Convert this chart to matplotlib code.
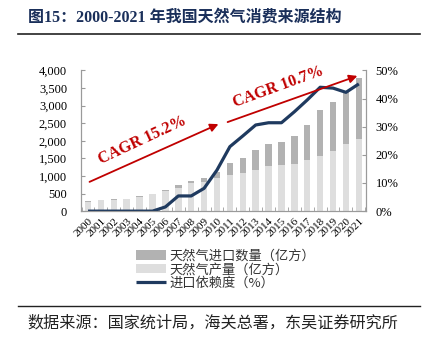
import matplotlib
matplotlib.use("Agg")
import matplotlib.pyplot as plt
import matplotlib.transforms as mtransforms
import numpy as np

plt.rcParams['font.family'] = ['Liberation Serif', 'Noto Sans CJK SC', 'DejaVu Sans']

years = [str(y) for y in range(2000, 2022)]
production = [272, 303, 327, 340, 400, 480, 575, 650, 790, 840, 930, 1025, 1071, 1166,
              1280, 1308, 1346, 1450, 1573, 1715, 1896, 2050]
imports = [18, 18, 18, 15, 20, 20, 25, 90, 65, 90, 190, 340, 426, 568,
           616, 645, 777, 986, 1300, 1384, 1480, 1740]
dependency = [0, 0, 0, 0, 0, 0, 1.5, 5.4, 5.4, 8.1, 14.6, 22.9, 26.7, 30.6,
              31.4, 31.4, 35.3, 39.5, 44.0, 43.7, 42.2, 45.2]

c_import = '#b2b2b2'
c_prod = '#dedede'
c_line = '#1f3a5f'
c_red = '#c00000'
c_spine = '#9a9a9a'
cjk = ['Noto Sans CJK SC', 'DejaVu Sans']

fig = plt.figure(figsize=(4.26, 3.45), dpi=100)
ax = fig.add_axes([0.190, 0.388, 0.669, 0.408])
ax2 = ax.twinx()

x = np.arange(len(years))
b1 = ax.bar(x, imports, 0.5, bottom=production, color=c_import, label='天然气进口数量（亿方）', zorder=2)
b2 = ax.bar(x, production, 0.5, color=c_prod, label='天然气产量（亿方）', zorder=2)
l1, = ax2.plot(x, dependency, color=c_line, lw=2.3, label='进口依赖度（%）', solid_capstyle='butt')

ax.set_xlim(-0.55, 21.55)
ax.set_ylim(0, 4000)
ax.set_yticks(range(0, 4001, 500))
ax.set_yticklabels([f'{v:,}' for v in range(0, 4001, 500)])
ax2.set_ylim(0, 50)
ax2.set_yticks(range(0, 51, 10))
ax2.set_yticklabels([f'{v}%' for v in range(0, 51, 10)])

ax.set_xticks(x)
ax.set_xticklabels(years, rotation=45, ha='right', va='top', rotation_mode='anchor')
shift = mtransforms.ScaledTranslation(5 / 100, 0, fig.dpi_scale_trans)
for lab in ax.get_xticklabels():
    lab.set_transform(lab.get_transform() + shift)
ax.set_xticks(np.arange(-0.5, 22, 1), minor=True)
ax.tick_params(axis='x', which='major', length=0, labelsize=8, pad=4)
ax.tick_params(axis='x', which='minor', length=3, direction='in', color=c_spine)
ax.tick_params(axis='y', length=3, direction='in', color=c_spine, labelsize=9, pad=10)
ax2.tick_params(axis='y', length=3, direction='in', color=c_spine, labelsize=9, pad=7)

for a in (ax, ax2):
    a.spines['top'].set_visible(False)
    for s in ('left', 'right', 'bottom'):
        a.spines[s].set_color(c_spine)
        a.spines[s].set_linewidth(0.8)

# CAGR arrows and labels
fig_ax = fig.add_axes([0, 0, 1, 1], facecolor='none')
fig_ax.set_xlim(0, 426)
fig_ax.set_ylim(345, 0)
fig_ax.axis('off')
fig_ax.annotate('', xy=(221, 123), xytext=(87, 183),
                arrowprops=dict(arrowstyle='-|>', color=c_red, lw=1.3, mutation_scale=12))
fig_ax.annotate('', xy=(360, 75), xytext=(225, 123),
                arrowprops=dict(arrowstyle='-|>', color=c_red, lw=1.3, mutation_scale=12))
fig_ax.text(142, 140, 'CAGR 15.2%', color=c_red, fontsize=11.5, fontweight='bold',
            rotation=25, ha='center', va='center', rotation_mode='anchor')
fig_ax.text(278, 87, 'CAGR 10.7%', color=c_red, fontsize=11.5, fontweight='bold',
            rotation=20, ha='center', va='center', rotation_mode='anchor')

# title, rules and source
fig_ax.text(28, 18, '图15：2000-2021 年我国天然气消费来源结构', fontsize=11.5, fontweight='bold',
            color='#1a2f5a', ha='left', va='center')
fig_ax.plot([18, 420], [34, 34], color='#222222', lw=1.2)
fig_ax.plot([18, 420], [306, 306], color='#222222', lw=1.0)
fig_ax.text(27, 323, '数据来源：国家统计局，海关总署，东吴证券研究所', fontsize=11.6,
            color='#222222', ha='left', va='center', family=cjk)

leg = fig.legend(handles=[b1, b2, l1], loc='upper left', bbox_to_anchor=(129 / 426, 1 - 243 / 345),
                 frameon=False, handlelength=2.3, handleheight=0.7, labelspacing=0.05,
                 handletextpad=0.3, borderpad=0, prop={'family': cjk, 'size': 9.5})
for t in leg.get_texts():
    t.set_color('#333333')

fig.savefig('out.png', dpi=100)
